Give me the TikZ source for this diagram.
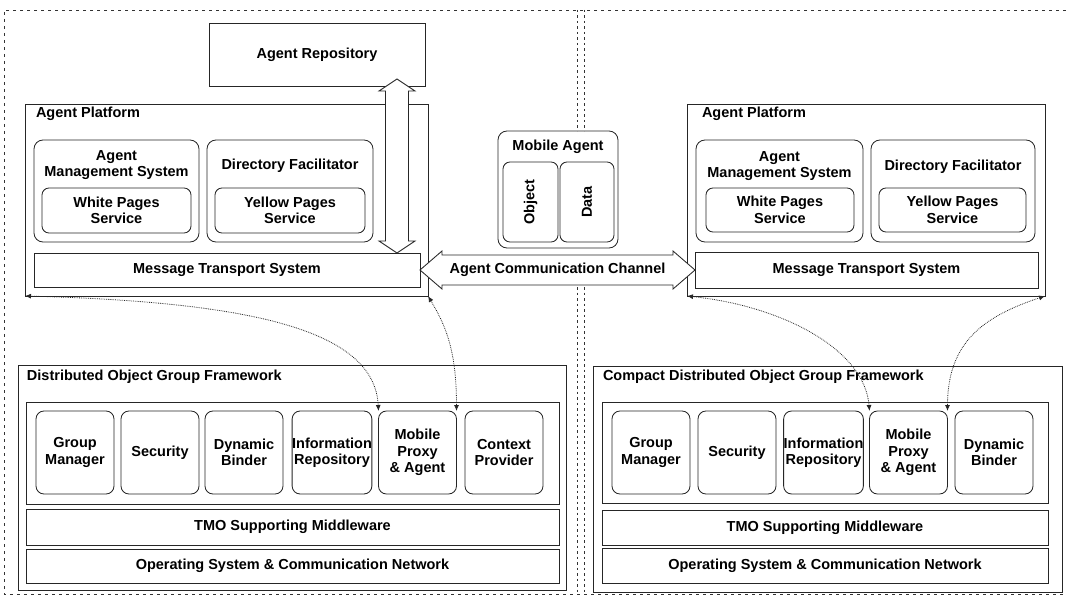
\documentclass[tikz,border=0pt]{standalone}
\usepackage{fontspec}
\setmainfont{Liberation Sans}
\usetikzlibrary{arrows.meta,calc}

\begin{document}
\begin{tikzpicture}[x=1pt,y=-1pt,
  font=\fontsize{14.5}{16.5}\selectfont\bfseries,
  every node/.style={inner sep=0pt, outer sep=0pt},
  bx/.style 2 args={minimum width=#1pt, minimum height=#2pt},
  frame/.style={draw=black!85, line width=0.85pt, fill=white},
  rbox/.style={frame, rounded corners=9pt},
  sbox/.style={frame, rounded corners=7pt, align=center},
  comp/.style={frame, rounded corners=8pt, align=center, bx={78}{83}},
  link/.style={densely dotted, line width=0.8pt, black!85,
    arrows={Latex[length=6pt,width=5pt]-Latex[length=6pt,width=5pt]}},
  border/.style={dash pattern=on 3pt off 4pt, line width=0.6pt, black!80},
  divider/.style={dash pattern=on 2.5pt off 3pt, line width=0.6pt, black!80},
]
\useasboundingbox (0,0) rectangle (1066,599);

% outer dashed frame
\draw[border] (1066,10) -- (4,10) -- (4,594) -- (1066,594);

% ---------- left agent platform ----------
\node[frame, bx={216}{63}] (repo) at (317,54.5) {Agent Repository};
\node[frame, bx={403}{192}] (lap) at (226.5,200) {};
\node[anchor=west] (laplbl) at (36,114) {Agent Platform};

\node[rbox, bx={165}{102}] (lams) at (116.5,191) {};
\node[align=center] (lamst) at (116.5,165) {Agent\\Management System};
\node[sbox, bx={149}{45}] (lwp) at (116.5,210.5) {White Pages\\Service};

\node[rbox, bx={166}{102}] (ldf) at (290,191) {};
\node (ldft) at (290,166) {Directory Facilitator};
\node[sbox, bx={150}{45}] (lyp) at (290,210.5) {Yellow Pages\\Service};

\node[frame, bx={386}{34}] (lmts) at (227,270) {Message Transport System};

% repository <-> message transport double arrow
\coordinate (arT) at ($(397,0 |- repo.south)+(0,-7)$);
\coordinate (arB) at (397,0 |- lmts.north);
\draw[frame] (arT) -- ++(18,12) -- ++(-6.5,0) -- ($(arB)+(11.5,-12)$)
  -- ++(6.5,0) -- (arB) -- ++(-18,-12) -- ++(6.5,0)
  -- ($(arT)+(-11.5,12)$) -- ++(-6.5,0) -- cycle;

% ---------- right agent platform ----------
\node[frame, bx={358}{192}] (rap) at (866,200) {};
\node[anchor=west] (raplbl) at (702,114) {Agent Platform};

\node[rbox, bx={167}{102}] (rams) at (779.5,191) {};
\node[align=center] (ramst) at (779.5,166) {Agent\\Management System};
\node[sbox, bx={148}{44}] (rwp) at (780,210) {White Pages\\Service};

\node[rbox, bx={164}{102}] (rdf) at (953,191) {};
\node (rdft) at (953,167) {Directory Facilitator};
\node[sbox, bx={147}{44}] (ryp) at (952.5,210) {Yellow Pages\\Service};

\node[frame, bx={343}{36}] (rmts) at (866.5,270) {Message Transport System};

% ---------- mobile agent and channel ----------
\node[rbox, bx={120}{117}] (ma) at (558,189.5) {};
\node (mat) at (558,147) {Mobile Agent};
\node[sbox, bx={80}{55}, rotate=90] (obj) at (530.5,202) {Object};
\node[sbox, bx={80}{54}, rotate=90] (dat) at (587,202) {Data};

\draw[frame] (lmts.east) -- ++(22,-19) -- ++(0,4) -- ($(rmts.west)+(-22,-15)$)
  -- ++(0,-4) -- (rmts.west) -- ++(-22,19) -- ++(0,-4)
  -- ($(lmts.east)+(22,15)$) -- ++(0,4) -- cycle;
\node (acc) at ($(lmts.east)!0.5!(rmts.west)$) {Agent Communication Channel};

% centre dividers
\draw[divider] (577,10) -- (577,0 |- ma.north);
\draw[divider] (584,10) -- (584,0 |- ma.north);
\draw[divider] (577,0 |- lmts.south) -- (577,594);
\draw[divider] (584,0 |- lmts.south) -- (584,594);

% ---------- distributed object group framework ----------
\node[frame, bx={548}{225}] (ldog) at (292,477.5) {};
\node[anchor=west] (ldogl) at (27,377) {Distributed Object Group Framework};
\node[frame, bx={533}{102}] (lcont) at (292.5,453) {};
\node[comp] (lgm) at (75,452.5) {Group\\Manager};
\node[comp] (lsec) at (160,452.5) {Security};
\node[comp] (ldb) at (244,452.5) {Dynamic\\Binder};
\node[comp] (lir) at (332,452.5) {Information\\Repository};
\node[comp] (lmp) at (417.5,452.5) {Mobile\\Proxy\\\& Agent};
\node[comp] (lcp) at (504,452.5) {Context\\Provider};
\node[frame, bx={533}{36}] (ltmo) at (292.5,527) {TMO Supporting Middleware};
\node[frame, bx={533}{34}] (los) at (292.5,566) {Operating System \& Communication Network};

% ---------- compact distributed object group framework ----------
\node[frame, bx={469}{226}] (rdog) at (827.5,479) {};
\node[anchor=west] (rdogl) at (603,377) {Compact Distributed Object Group Framework};
\node[frame, bx={446}{101}] (rcont) at (825,452.5) {};
\node[comp] (rgm) at (651,452.5) {Group\\Manager};
\node[comp] (rsec) at (737,452.5) {Security};
\node[comp] (rir) at (823.5,452.5) {Information\\Repository};
\node[comp] (rmp) at (908.5,452.5) {Mobile\\Proxy\\\& Agent};
\node[comp] (rdb) at (994,452.5) {Dynamic\\Binder};
\node[frame, bx={446}{35}] (rtmo) at (825,527.5) {TMO Supporting Middleware};
\node[frame, bx={446}{35}] (ros) at (825,565.5) {Operating System \& Communication Network};

% ---------- platform <-> mobile proxy links ----------
\draw[link] (lap.south west) .. controls +(230,6) and +(-4,-80) .. (lmp.north west);
\draw[link] (lap.south east) .. controls +(18,30) and +(0,-60) .. (lmp.north east);
\draw[link] (rap.south west) .. controls +(95,10) and +(-5,-62) .. (rmp.north west);
\draw[link] (rap.south east) .. controls +(-60,20) and +(0,-70) .. (rmp.north east);
\end{tikzpicture}
\end{document}
